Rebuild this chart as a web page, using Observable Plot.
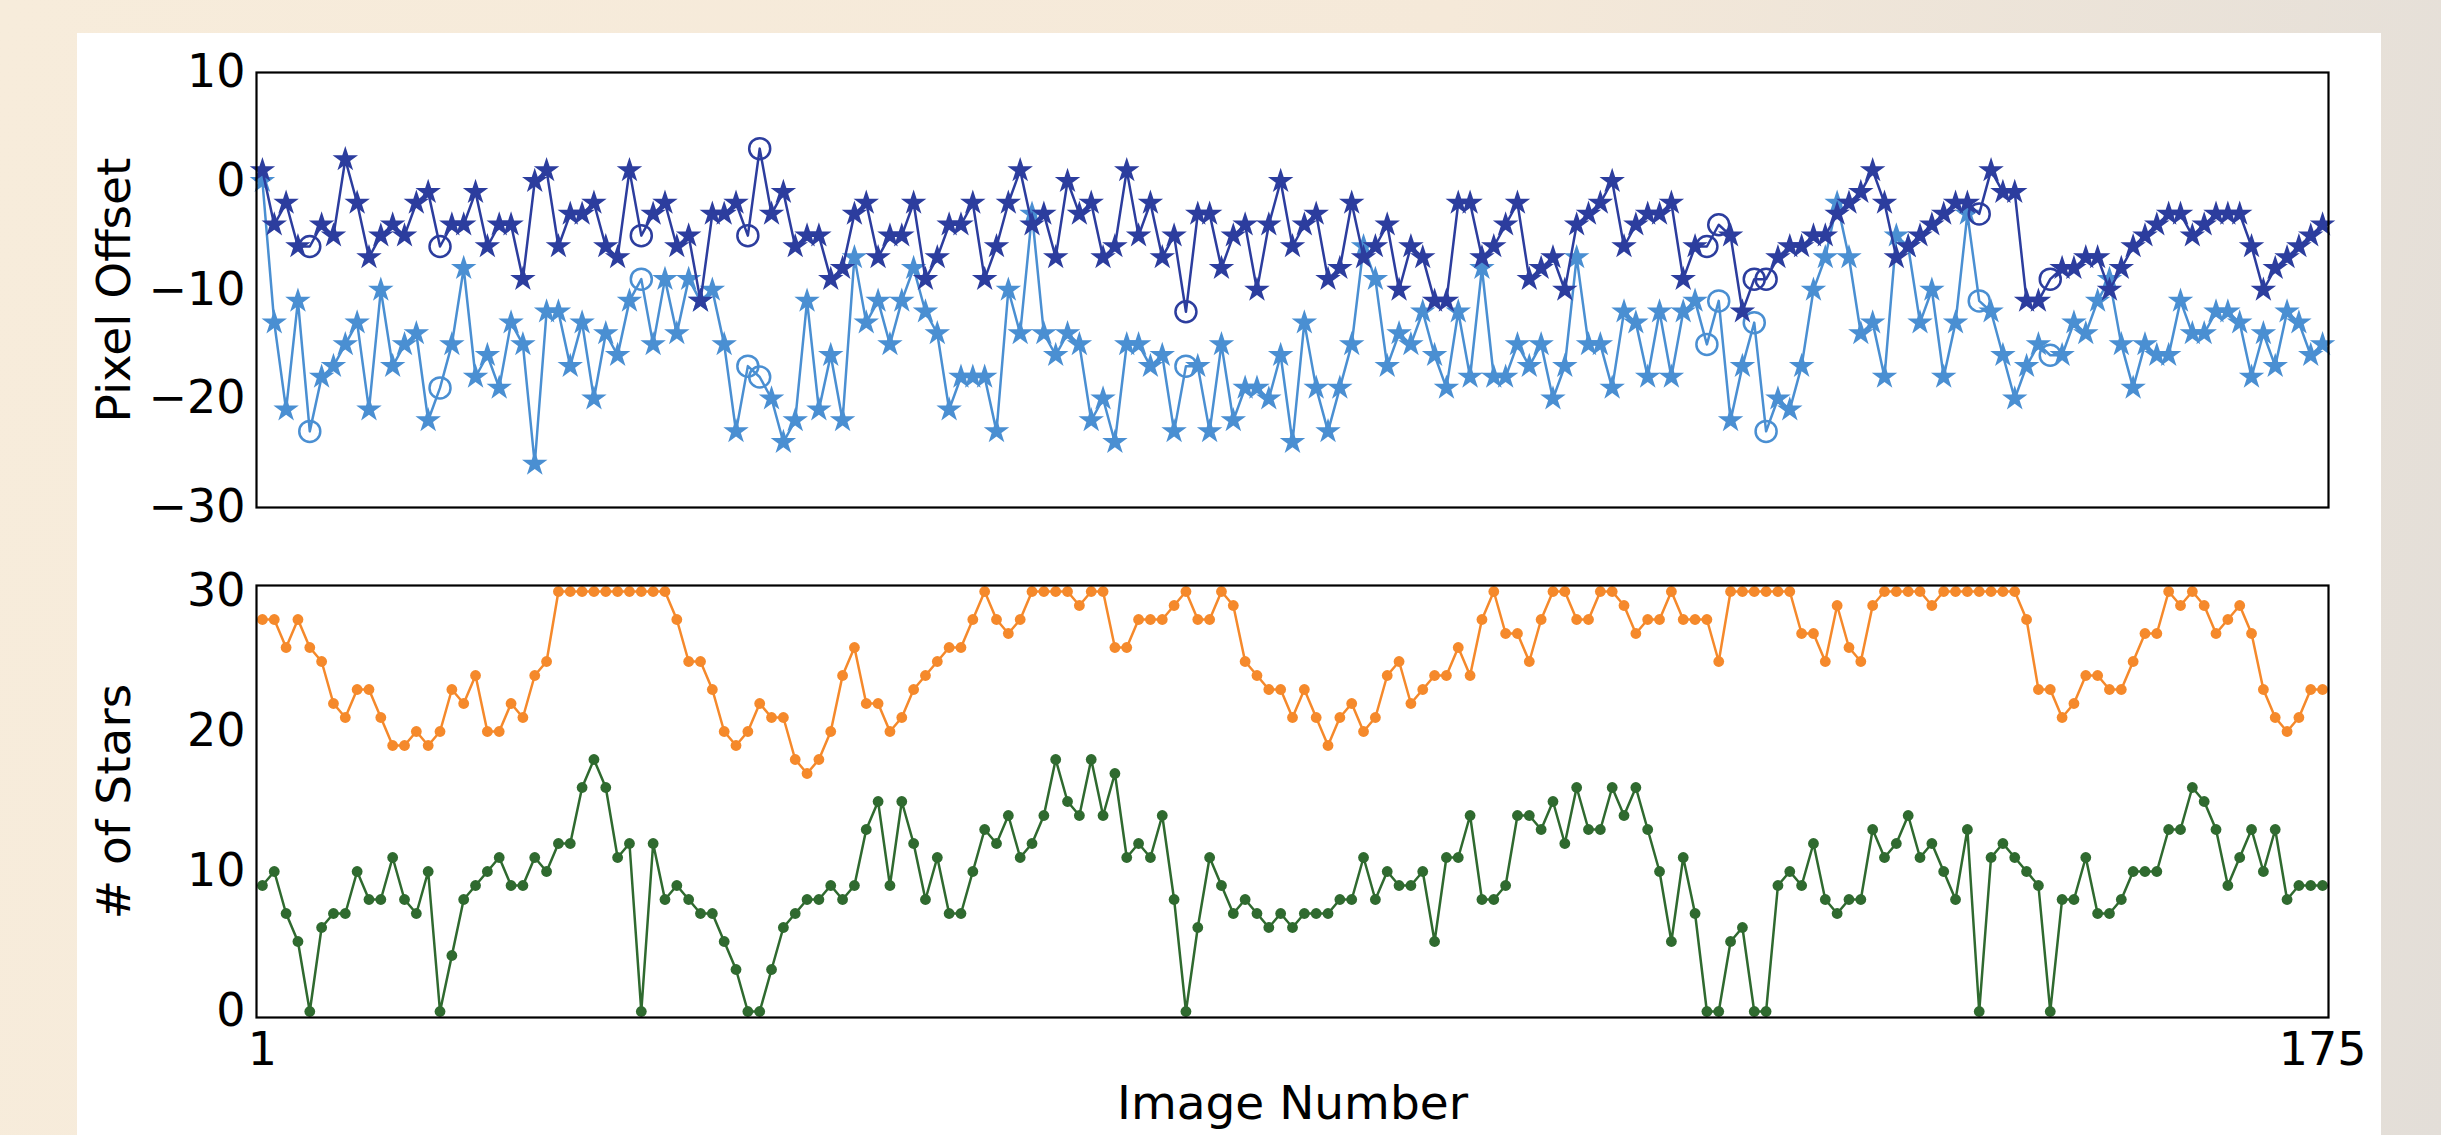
<!DOCTYPE html>
<html><head><meta charset="utf-8">
<script src="https://cdn.jsdelivr.net/npm/d3@7"></script>
<script src="https://cdn.jsdelivr.net/npm/@observablehq/plot@0.6"></script>
<style>
html,body{margin:0;padding:0;width:2441px;height:1135px;overflow:hidden;}
body{background:linear-gradient(100deg,#f7ecdb 0%,#f5e9d9 55%,#e3ded8 100%);font-family:"DejaVu Sans",sans-serif;position:relative;}
#panel{position:absolute;left:77px;top:33px;width:2304px;height:1102px;background:#fff;}
#top,#bottom{position:absolute;left:0;}
#top{top:0px;}
#bottom{top:546px;}
</style></head><body>
<div id="panel"></div>
<div id="top"></div>
<div id="bottom"></div>
<script>
// ---- data ----
const imageNumber = d3.range(1, 176);
const darkOffset = [
 1,-4,-2,-6,-6,-4,-5,2,-2,-7,-5,-4,-5,-2,-1,-6,-4,-4,-1,-6,-4,-4,-9,0,1,-6,-3,-3,-2,
 -6,-7,1,-5,-3,-2,-6,-5,-11,-3,-3,-2,-5,3,-3,-1,-6,-5,-5,-9,-8,-3,-2,-7,-5,-5,-2,-9,-7,-4,-4,-2,-9,-6,-2,1,-4,-3,-7,0,-3,-2,-7,-6,1,-5,-2,-7,-5,-12,
 -3,-3,-8,-5,-4,-10,-4,0,-6,-4,-3,-9,-8,-2,-7,-6,-4,-10,-6,-7,-11,-11,-2,-2,-7,-6,-4,-2,-9,-8,-7,-10,-4,-3,-2,0,-6,-4,-3,-3,-2,-9,-6,-6,-4,-5,-12,-9,
 -9,-7,-6,-6,-5,-5,-3,-2,-1,1,-2,-7,-6,-5,-4,-3,-2,-2,-3,1,-1,-1,-11,-11,-9,-8,-8,-7,-7,-10,-8,-6,-5,-4,-3,-3,-5,-4,-3,-3,-3,-6,-10,-8,-7,-6,-5,-4
];
const lightOffset = [
 0,-13,-21,-11,-23,-18,-17,-15,-13,-21,-10,-17,-15,-14,-22,-19,-15,-8,-18,-16,-19,-13,-15,-26,-12,-12,-17,-13,-20,
 -14,-16,-11,-9,-15,-9,-14,-9,-11,-10,-15,-23,-17,-18,-20,-24,-22,-11,-21,-16,-22,-7,-13,-11,-15,-11,-8,-12,-14,-21,-18,-18,-18,-23,-10,-14,-3,-14,-16,-14,-15,-22,-20,-24,-15,-15,-17,-16,-23,-17,
 -17,-23,-15,-22,-19,-19,-20,-16,-24,-13,-19,-23,-19,-15,-6,-9,-17,-14,-15,-12,-16,-19,-12,-18,-8,-18,-18,-15,-17,-15,-20,-17,-7,-15,-15,-19,-12,-13,-18,-12,-18,-12,-11,-15,-11,-22,-17,-13,
 -23,-20,-21,-17,-10,-7,-2,-7,-14,-13,-18,-5,-6,-13,-10,-18,-13,-3,-11,-12,-16,-20,-17,-15,-16,-16,-13,-14,-11,-9,-15,-19,-15,-16,-16,-11,-14,-14,-12,-12,-13,-18,-14,-17,-12,-13,-16,-15
];
const starsOrange = [
 28,28,26,28,26,25,22,21,23,23,21,19,19,20,19,20,23,22,24,20,20,22,21,24,25,30,30,30,30,
 30,30,30,30,30,30,28,25,25,23,20,19,20,22,21,21,18,17,18,20,24,26,22,22,20,21,23,24,25,26,26,28,30,28,27,28,30,30,30,30,29,30,30,26,26,28,28,28,29,30,
 28,28,30,29,25,24,23,23,21,23,21,19,21,22,20,21,24,25,22,23,24,24,26,24,28,30,27,27,25,28,30,30,28,28,30,30,29,27,28,28,30,28,28,28,25,30,30,30,
 30,30,30,27,27,25,29,26,25,29,30,30,30,30,29,30,30,30,30,30,30,30,28,23,23,21,22,24,24,23,23,25,27,27,30,29,30,29,27,28,29,27,23,21,20,21,23,23
];
const starsGreen = [
 9,10,7,5,0,6,7,7,10,8,8,11,8,7,10,0,4,8,9,10,11,9,9,11,10,12,12,16,18,
 16,11,12,0,12,8,9,8,7,7,5,3,0,0,3,6,7,8,8,9,8,9,13,15,9,15,12,8,11,7,7,10,13,12,14,11,12,14,18,15,14,18,14,17,11,12,11,14,8,0,
 6,11,9,7,8,7,6,7,6,7,7,7,8,8,11,8,10,9,9,10,5,11,11,14,8,8,9,14,14,13,15,12,16,13,13,16,14,16,13,10,5,11,7,0,0,5,6,0,
 0,9,10,9,12,8,7,8,8,13,11,12,14,11,12,10,8,13,0,11,12,11,10,9,0,8,8,11,7,7,8,10,10,10,13,13,16,15,13,9,11,13,10,13,8,9,9,9
];
const circledImages = [5,16,33,42,43,79,123,124,127,128,146,152];
const topTicks = [-30,-20,-10,0,10];
const bottomTicks = [0,10,20,30];
const xTicks = [1,175];
const topLabel = "Pixel Offset";
const bottomLabel = "# of Stars";
const xLabel = "Image Number";

// ---- build tables ----
const rows = (vals) => imageNumber.map((i, k) => ({i, v: vals[k], flag: circledImages.includes(i)}));
const dark = rows(darkOffset), light = rows(lightOffset);
const orange = rows(starsOrange), green = rows(starsGreen);

const C = {dark:"#2c3d9e", light:"#4a8fd2", orange:"#f5892b", green:"#2f6a2f"};
const W = 2441;
const TICK = 46, TITLE = 47;
const style = {background:"transparent", fontFamily:"DejaVu Sans, sans-serif", fontSize:TICK + "px", color:"black", overflow:"visible"};
const xScale = {domain:[0.5,175.5], axis:null};

const seriesMarks = (data, color) => [
  Plot.line(data, {x:"i", y:"v", stroke:color, strokeWidth:2.5}),
  Plot.dot(data.filter(d => !d.flag), {x:"i", y:"v", symbol:"star", r:8, fill:color, stroke:"none"}),
  Plot.dot(data.filter(d => d.flag), {x:"i", y:"v", r:10.5, fill:"none", stroke:color, strokeWidth:2.5})
];

const yTitle = (label) => Plot.text([label], {text:d=>d, frameAnchor:"left", textAnchor:"middle", lineAnchor:"middle", rotate:-90, dx:-142, fontSize:TITLE, fill:"black"});

const topPlot = Plot.plot({
  width:W, height:546, marginLeft:256, marginRight:113, marginTop:72, marginBottom:39,
  style, x:xScale,
  y:{domain:[-30,10], label:null, axis:null},
  marks:[
    Plot.axisY({ticks:topTicks, tickSize:0, tickPadding:11, fontSize:TICK, label:null}),
    ...seriesMarks(light, C.light),
    ...seriesMarks(dark, C.dark),
    Plot.frame({stroke:"black", strokeWidth:2.2}),
    yTitle(topLabel)
  ]
});
document.getElementById("top").append(topPlot);

const bottomPlot = Plot.plot({
  width:W, height:589, marginLeft:256, marginRight:113, marginTop:39, marginBottom:118,
  style, x:xScale,
  y:{domain:[-0.43,30.43], label:null, axis:null},
  marks:[
    Plot.axisY({ticks:bottomTicks, tickSize:0, tickPadding:11, fontSize:TICK, label:null}),
    Plot.axisX({ticks:xTicks, tickSize:0, tickPadding:15, fontSize:TICK, label:null, tickFormat:d3.format("d")}),
    Plot.line(orange, {x:"i", y:"v", stroke:C.orange, strokeWidth:2.5}),
    Plot.dot(orange, {x:"i", y:"v", r:5.4, fill:C.orange, stroke:"none"}),
    Plot.line(green, {x:"i", y:"v", stroke:C.green, strokeWidth:2.5}),
    Plot.dot(green, {x:"i", y:"v", r:5.4, fill:C.green, stroke:"none"}),
    Plot.frame({stroke:"black", strokeWidth:2.2}),
    yTitle(bottomLabel),
    Plot.text([xLabel], {text:d=>d, frameAnchor:"bottom", textAnchor:"middle", lineAnchor:"middle", dy:86, fontSize:TITLE, fill:"black"})
  ]
});
document.getElementById("bottom").append(bottomPlot);
</script>
</body></html>
